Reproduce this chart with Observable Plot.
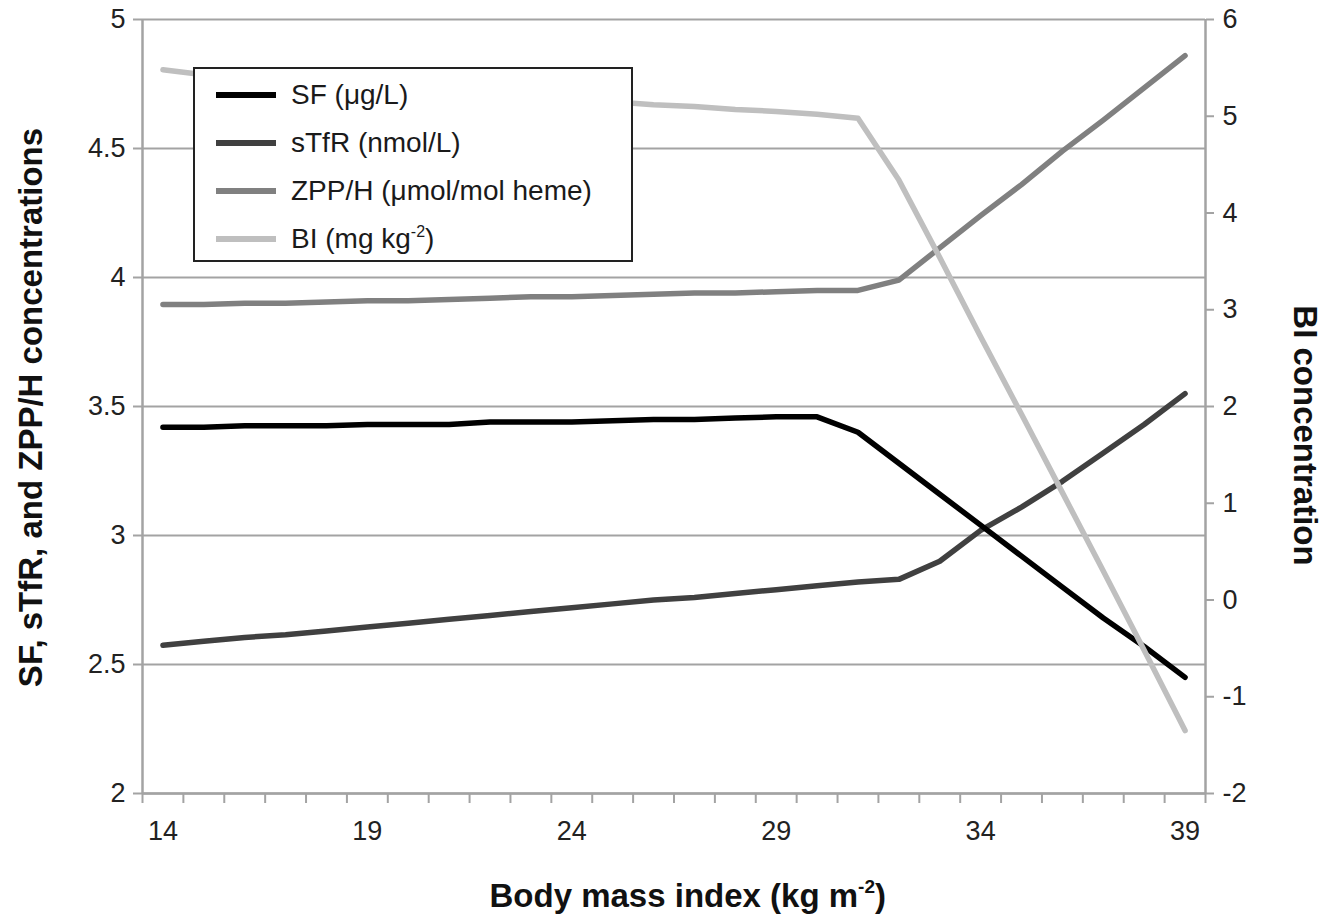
<!DOCTYPE html>
<html>
<head>
<meta charset="utf-8">
<script src="https://cdn.jsdelivr.net/npm/d3@7"></script>
<script src="https://cdn.jsdelivr.net/npm/@observablehq/plot@0.6"></script>
<style>
  html, body { margin: 0; padding: 0; background: #fff; }
  #wrap { position: relative; width: 1338px; height: 918px; font-family: "Liberation Sans", Arial, sans-serif; color: #222; }
  #chart { position: absolute; left: 0; top: 0; }
  .title { position: absolute; font-weight: bold; font-size: 33px; white-space: nowrap; color: #111; line-height: 1; }
  .title sup { font-size: 19px; vertical-align: 14px; line-height: 0; }
  #legend { position: absolute; left: 193px; top: 67px; width: 440px; height: 195px; border: 2px solid #222; background: #fff; box-sizing: border-box; }
  .item { position: absolute; left: 21px; height: 32px; display: flex; align-items: center; font-size: 28px; white-space: nowrap; color: #1a1a1a; }
  .swatch { width: 60px; height: 6px; margin-right: 15px; flex: none; }
  .item sup { font-size: 16px; vertical-align: 11px; line-height: 0; }
</style>
</head>
<body>
<div id="wrap">
  <div id="chart"></div>
  <div id="legend"></div>
  <div class="title" id="xt">Body mass index (kg m<sup>-2</sup>)</div>
  <div class="title" id="ylt">SF, sTfR, and ZPP/H concentrations</div>
  <div class="title" id="yrt">BI concentration</div>
</div>
<script>
// ---- data ----
const bmi   = [14,15,16,17,18,19,20,21,22,23,24,25,26,27,28,29,30,31,32,33,34,35,36,37,38,39];
const sf    = [3.42,3.42,3.425,3.425,3.425,3.43,3.43,3.43,3.44,3.44,3.44,3.445,3.45,3.45,3.455,3.46,3.46,3.40,3.28,3.16,3.04,2.92,2.80,2.68,2.57,2.45];
const stfr  = [2.575,2.59,2.605,2.615,2.63,2.645,2.66,2.675,2.69,2.705,2.72,2.735,2.75,2.76,2.775,2.79,2.805,2.82,2.83,2.90,3.02,3.11,3.21,3.32,3.43,3.55];
const zpph  = [3.895,3.895,3.90,3.90,3.905,3.91,3.91,3.915,3.92,3.925,3.925,3.93,3.935,3.94,3.94,3.945,3.95,3.95,3.99,4.115,4.24,4.36,4.49,4.61,4.735,4.86];
const bi    = [5.48,5.43,5.39,5.35,5.32,5.29,5.26,5.24,5.21,5.19,5.17,5.15,5.12,5.10,5.07,5.05,5.02,4.98,4.34,3.54,2.72,1.92,1.11,0.30,-0.52,-1.35];

const seriesNames = ["SF (μg/L)", "sTfR (nmol/L)", "ZPP/H (μmol/mol heme)", "BI (mg kg<sup>-2</sup>)"];
const seriesColors = ["#000000", "#404040", "#808080", "#bfbfbf"];

const xLabels = [14, 19, 24, 29, 34, 39];
const xDomain = [13.5, 39.5];
const xBoundaries = d3.range(13.5, 40, 1);
const leftDomain = [2, 5];
const leftTicks = [2, 2.5, 3, 3.5, 4, 4.5, 5];
const rightDomain = [-2, 6];
const rightTicks = [-2, -1, 0, 1, 2, 3, 4, 5, 6];

// map right-axis values onto the left scale
const toLeft = v => leftDomain[0] + (v - rightDomain[0]) * (leftDomain[1] - leftDomain[0]) / (rightDomain[1] - rightDomain[0]);
const fromLeft = y => rightDomain[0] + (y - leftDomain[0]) * (rightDomain[1] - rightDomain[0]) / (leftDomain[1] - leftDomain[0]);

const rows = bmi.map((b, i) => ({bmi: b, sf: sf[i], stfr: stfr[i], zpph: zpph[i], bi: toLeft(bi[i])}));

const axisGray = "#a3a3a3";

const chart = Plot.plot({
  width: 1338,
  height: 918,
  marginLeft: 142,
  marginRight: 133,
  marginTop: 19,
  marginBottom: 125,
  style: {fontSize: "27px", fontFamily: "'Liberation Sans', Arial, sans-serif", color: "#222", background: "#fff"},
  x: {domain: xDomain},
  y: {domain: leftDomain},
  marks: [
    Plot.gridY(leftTicks, {stroke: axisGray, strokeOpacity: 1, strokeWidth: 2}),
    Plot.ruleX(xDomain, {stroke: axisGray, strokeWidth: 2.5}),
    Plot.ruleY([leftDomain[0]], {stroke: axisGray, strokeWidth: 2.5}),
    Plot.axisY(leftTicks, {anchor: "left", tickSize: 9, tickPadding: 8, stroke: axisGray, fill: "#222", strokeWidth: 2,
      tickFormat: d => String(d), label: null}),
    Plot.axisY(rightTicks.map(toLeft), {anchor: "right", tickSize: 8, tickPadding: 9, stroke: axisGray, fill: "#222", strokeWidth: 2,
      tickFormat: d => String(Math.round(fromLeft(d))), label: null}),
    Plot.axisX(xBoundaries, {tickSize: 10, tickFormat: () => "", stroke: axisGray, strokeWidth: 2, label: null}),
    Plot.axisX(xLabels, {tickSize: 0, tickPadding: 27, fill: "#222", label: null}),
    Plot.line(rows, {x: "bmi", y: "stfr", stroke: seriesColors[1], strokeWidth: 5.5, strokeLinejoin: "round", strokeLinecap: "round"}),
    Plot.line(rows, {x: "bmi", y: "zpph", stroke: seriesColors[2], strokeWidth: 5.5, strokeLinejoin: "round", strokeLinecap: "round"}),
    Plot.line(rows, {x: "bmi", y: "sf", stroke: seriesColors[0], strokeWidth: 5.5, strokeLinejoin: "round", strokeLinecap: "round"}),
    Plot.line(rows, {x: "bmi", y: "bi", stroke: seriesColors[3], strokeWidth: 5.5, strokeLinejoin: "round", strokeLinecap: "round"})
  ]
});
document.getElementById("chart").appendChild(chart);

// legend
const legend = document.getElementById("legend");
seriesNames.forEach((name, i) => {
  const item = document.createElement("div");
  item.className = "item";
  item.style.top = (10 + i * 48) + "px";
  item.innerHTML = `<div class="swatch" style="background:${seriesColors[i]}"></div><span>${name}</span>`;
  legend.appendChild(item);
});

// titles
const xt = document.getElementById("xt");
xt.style.left = (688 - xt.offsetWidth / 2) + "px";
xt.style.top = (895 - xt.offsetHeight / 2) + "px";
const ylt = document.getElementById("ylt");
ylt.style.left = (30 - ylt.offsetWidth / 2) + "px";
ylt.style.top = (407 - ylt.offsetHeight / 2) + "px";
ylt.style.transform = "rotate(-90deg)";
const yrt = document.getElementById("yrt");
yrt.style.left = (1305 - yrt.offsetWidth / 2) + "px";
yrt.style.top = (435 - yrt.offsetHeight / 2) + "px";
yrt.style.transform = "rotate(90deg)";
</script>
</body>
</html>
